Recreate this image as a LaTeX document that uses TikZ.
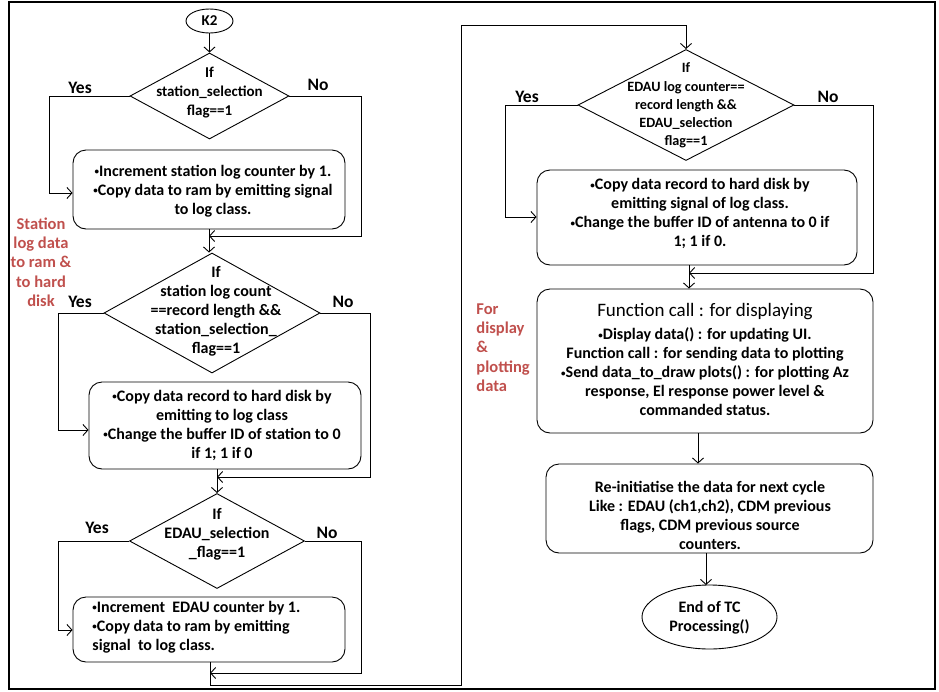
\documentclass[tikz,border=0pt]{standalone}
\usepackage{fontspec}
\setmainfont{Carlito}
\usetikzlibrary{shapes.geometric,arrows.meta}
\definecolor{notered}{HTML}{C0504D}
% small raised list bullet
\newcommand\bul{{\fontsize{9}{9}\selectfont\raisebox{0.3ex}{•}}}
\begin{document}
\begin{tikzpicture}[x=1pt,y=-1pt,line width=0.9pt,
  arr/.style={-{Straight Barb[length=5pt,width=11pt]}},
  decision/.style={diamond,draw,inner sep=0pt},
  procbox/.style={draw,rounded corners=13pt,inner sep=0pt},
  terminal/.style={ellipse,draw,inner sep=0pt},
  body/.style={font=\bfseries\fontsize{16}{19}\selectfont,align=center,inner sep=0pt},
  small/.style={font=\bfseries\fontsize{15}{19}\selectfont},
  tight/.style={font=\bfseries\fontsize{14.2}{18.2}\selectfont},
  yesno/.style={font=\bfseries\fontsize{17.5}{20}\selectfont,inner sep=0pt},
  side/.style={font=\bfseries\fontsize{16.5}{19.3}\selectfont,text=notered,inner sep=0pt}]
\useasboundingbox (0,0) rectangle (939,691);
\draw[line width=1.3pt] (9,2) rectangle (935,689);

% ---------- left column: station and EDAU logging ----------
\node[terminal,minimum width=47pt,minimum height=24pt] (k2) at (209.5,21) {};
\node[body,small] (k2t) at (k2) {K2};

\node[decision,minimum width=159pt,minimum height=86pt] (d1) at (209.5,96) {};
\node[body,small] (d1t) at (209.5,93) {If\\station\_selection\\flag==1};
\node[yesno] (y1) at (80,88) {Yes};
\node[yesno] (n1) at (318,85) {No};

\node[procbox,minimum width=272pt,minimum height=79pt] (b1) at (209,189.5) {};
\node[body] (b1t) at (213,191) {\bul Increment station log counter by 1.\\\bul Copy data to ram by emitting signal\\to log class.};

\node[decision,minimum width=216pt,minimum height=120pt] (d2) at (212,313) {};
\node[body] (d2t) at (216,311) {If\\station log count\\==record length \&\&\\station\_selection\_\\flag==1};
\node[yesno] (y2) at (80,302) {Yes};
\node[yesno] (n2) at (343,302) {No};

\node[procbox,minimum width=272pt,minimum height=87pt] (b2) at (225,425.5) {};
\node[body] (b2t) at (222,425) {\bul Copy data record to hard disk by\\emitting to log class\\\bul Change the buffer ID of station to 0\\if 1; 1 if 0};

\node[decision,minimum width=175pt,minimum height=95pt] (d3) at (217,541) {};
\node[body] (d3t) at (217,534) {If\\EDAU\_selection\\\_flag==1};
\node[yesno] (y3) at (97,528) {Yes};
\node[yesno] (n3) at (327,533) {No};

\node[procbox,minimum width=272pt,minimum height=65pt] (b3) at (209,629.5) {};
\node[body,align=left,anchor=west] (b3t) at (92,627) {\bul Increment\ \ EDAU counter by 1.\\\bul Copy data to ram by emitting\\signal\ \ to log class.};

\node[side,align=center] (s1) at (41,262) {Station\\log data\\to ram \&\\to hard\\disk};

% ---------- right column: EDAU record, display, re-init ----------
\node[decision,minimum width=216pt,minimum height=111pt] (d4) at (686,105) {};
\node[body,tight] (d4t) at (686,105.5) {If\\EDAU log counter==\\record length \&\&\\EDAU\_selection\\flag==1};
\node[yesno] (y4) at (527,97) {Yes};
\node[yesno] (n4) at (828,97) {No};

\node[procbox,minimum width=320pt,minimum height=95pt] (b4) at (697,217.5) {};
\node[body] (b4t) at (700,213.5) {\bul Copy data record to hard disk by\\emitting signal of log class.\\\bul Change the buffer ID of antenna to 0 if\\1; 1 if 0.};

\node[procbox,minimum width=336pt,minimum height=144pt] (b5) at (705,361) {};
\node[body,font=\fontsize{19}{21}\selectfont] (b5h) at (705,312) {Function call : for displaying};
\node[body] (b5t) at (705,372) {\bul Display data() : for updating UI.\\Function call : for sending data to plotting\\\bul Send data\_to\_draw plots() : for plotting Az\\response, El response power level \&\\commanded status.};

\node[side,align=left,anchor=west] (s2) at (476,347.5) {For\\display\\\&\\plotting\\data};

\node[procbox,minimum width=327pt,minimum height=89pt] (b6) at (709.5,508.5) {};
\node[body] (b6t) at (710,515.5) {Re-initiatise the data for next cycle\\Like : EDAU (ch1,ch2), CDM previous\\flags, CDM previous source\\counters.};

\node[terminal,minimum width=135pt,minimum height=64pt] (end) at (709.5,617) {};
\node[body] (endt) at (709.5,617.5) {End of TC\\Processing()};

% ---------- connectors ----------
\draw[arr] (k2.south) -- (d1.north);
\draw[arr] (d1.west) -| (49,193) -- (b1.west |- 0,193);
\draw[arr] (d1.east) -| (361,236) -- (209,236);
\draw[arr] (b1.south) -- (b1.south |- d2.north);

\draw[arr] (d2.west) -| (58,430) -- (b2.west |- 0,430);
\draw[arr] (d2.east) -| (370,477) -- (217,477);
\draw[arr] (b2.south -| d3.north) -- (d3.north);

\draw[arr] (d3.west) -| (58,630) -- (b3.west |- 0,630);
\draw[arr] (d3.east) -| (361,673) -- (210,673);
\draw[arr] (b3.south -| 210,0) -- (210,685) -- (461,685) -- (461,25) -| (d4.north);

\draw[arr] (d4.west) -| (505,217) -- (b4.west |- 0,217);
\draw[arr] (d4.east) -| (873,273) -- (689,273);
\draw[arr] (b4.south -| 689,0) -- (b5.north -| 689,0);
\draw[arr] (b5.south -| 698,0) -- (b6.north -| 698,0);
\draw[arr] (b6.south -| 706,0) -- (706,585);
\end{tikzpicture}
\end{document}
